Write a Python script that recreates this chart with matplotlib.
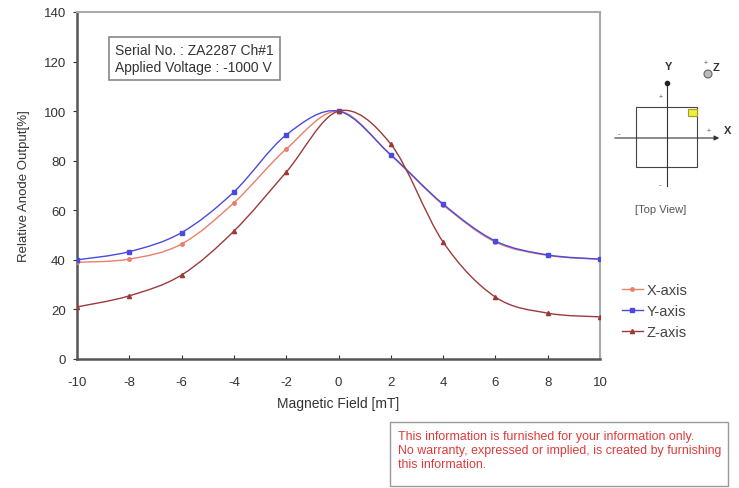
import numpy as np
import matplotlib.pyplot as plt
from matplotlib.path import Path
from matplotlib.patches import PathPatch, Rectangle, Circle
from matplotlib.lines import Line2D

plt.rcParams["font.family"] = "Liberation Sans"
plt.rcParams["axes.unicode_minus"] = False

field = [-10, -8, -6, -4, -2, 0, 2, 4, 6, 8, 10]
x_axis = [39, 40.3, 46.4, 63, 84.7, 100, 82.2, 62.2, 47.2, 41.8, 40.2]
y_axis = [40, 43.3, 51, 67.4, 90.4, 100, 82.4, 62.5, 47.6, 42, 40.3]
z_axis = [21, 25.5, 33.9, 51.6, 75.4, 100, 86.7, 47.2, 25, 18.5, 17]

series = [
    ("X-axis", x_axis, "#e8806a", "o", 2.5),
    ("Y-axis", y_axis, "#4a4ae0", "s", 3),
    ("Z-axis", z_axis, "#9c3a3a", "^", 3),
]


def smooth_path(xs, ys):
    # catmull-rom through the points, as cubic bezier segments
    p = np.column_stack([xs, ys]).astype(float)
    ext = np.vstack([p[0], p, p[-1]])
    verts = [tuple(p[0])]
    codes = [Path.MOVETO]
    for i in range(len(p) - 1):
        p0, p1, p2, p3 = ext[i], ext[i + 1], ext[i + 2], ext[i + 3]
        c1 = p1 + (p2 - p0) / 6.0
        c2 = p2 - (p3 - p1) / 6.0
        verts += [tuple(c1), tuple(c2), tuple(p2)]
        codes += [Path.CURVE4] * 3
    return Path(verts, codes)


fig = plt.figure(figsize=(7.39, 4.89), dpi=100)
W, H = 739, 489
ax = fig.add_axes([77 / W, 1 - 360 / H, (600 - 77) / W, (360 - 13) / H])

handles = []
for name, vals, col, mk, ms in series:
    ax.add_patch(PathPatch(smooth_path(field, vals), facecolor="none",
                           edgecolor=col, lw=1.0, zorder=2))
    ax.plot(field, vals, ls="none", marker=mk, ms=ms, color=col, zorder=3)
    handles.append(Line2D([], [], color=col, lw=1.0, marker=mk, ms=ms))

ax.set_xlim(-10, 10)
ax.set_ylim(0, 140)
ax.set_xticks(range(-10, 11, 2))
ax.set_yticks(range(0, 141, 20))
ax.tick_params(axis="x", direction="in", length=3, labelsize=9.5, colors="#333333", pad=12)
ax.tick_params(axis="y", direction="out", length=3, labelsize=9.5, colors="#333333", pad=5)
for s in ("left", "bottom"):
    ax.spines[s].set_color("#555555")
    ax.spines[s].set_linewidth(1.8)
for s in ("top", "right"):
    ax.spines[s].set_color("#aaaaaa")
    ax.spines[s].set_linewidth(1.5)
ax.set_xlabel("Magnetic Field [mT]", fontsize=10, color="#333333", labelpad=6)
ax.set_ylabel("Relative Anode Output[%]", fontsize=9.5, color="#333333", labelpad=10)

ax.text(0.073, 0.865, "Serial No. : ZA2287 Ch#1\nApplied Voltage : -1000 V",
        transform=ax.transAxes, fontsize=10, color="#333333", va="center",
        linespacing=1.25,
        bbox=dict(boxstyle="square,pad=0.45", fc="white", ec="#888888", lw=1.2))

fig.legend(handles, [s[0] for s in series], loc="center left",
           bbox_to_anchor=(609 / W, 1 - 312 / H), frameon=False, fontsize=10.5,
           handlelength=1.4, handletextpad=0.25, labelspacing=0.5,
           labelcolor="#444444")

# overlay in pixel coordinates for the sensor sketch and the note
ov = fig.add_axes([0, 0, 1, 1], zorder=5)
ov.set_xlim(0, W)
ov.set_ylim(H, 0)
ov.axis("off")
ov.patch.set_alpha(0)

ov.add_patch(Rectangle((636, 108), 61, 60, fill=False, ec="#444444", lw=0.8))
ov.plot([667, 667], [84, 187], color="#333333", lw=0.8)
ov.plot(667, 84, marker="o", ms=3, color="#222222")
ov.annotate("", xy=(722, 139), xytext=(612, 139),
            arrowprops=dict(arrowstyle="-|>", color="#333333", lw=0.8,
                            mutation_scale=7))
ov.add_patch(Rectangle((688, 110), 9, 7, fc="#f0f040", ec="#a0a020", lw=0.8))
ov.add_patch(Circle((708, 75), 4, fc="#bbbbbb", ec="#666666", lw=0.8))
ov.text(669, 67, "Y", fontsize=8, fontweight="bold", ha="center", va="center", color="#333333")
ov.text(728, 131, "X", fontsize=8, fontweight="bold", ha="center", va="center", color="#333333")
ov.text(716, 68, "Z", fontsize=8, fontweight="bold", ha="center", va="center", color="#333333")
ov.text(661, 97, "+", fontsize=5, ha="center", va="center", color="#555555")
ov.text(709, 132, "+", fontsize=5, ha="center", va="center", color="#555555")
ov.text(706, 63, "+", fontsize=5, ha="center", va="center", color="#555555")
ov.text(619, 135, "-", fontsize=6, ha="center", va="center", color="#555555")
ov.text(660, 186, "-", fontsize=6, ha="center", va="center", color="#555555")
ov.text(661, 210, "[Top View]", fontsize=8, ha="center", va="center", color="#555555")

ov.add_patch(Rectangle((390, 423), 338, 64, fill=False, ec="#999999", lw=1.0))
ov.text(398, 451, "This information is furnished for your information only.\n"
        "No warranty, expressed or implied, is created by furnishing\n"
        "this information.", fontsize=8.9, color="#e03a3a", va="center",
        linespacing=1.2)

fig.savefig("out.png", dpi=100)
